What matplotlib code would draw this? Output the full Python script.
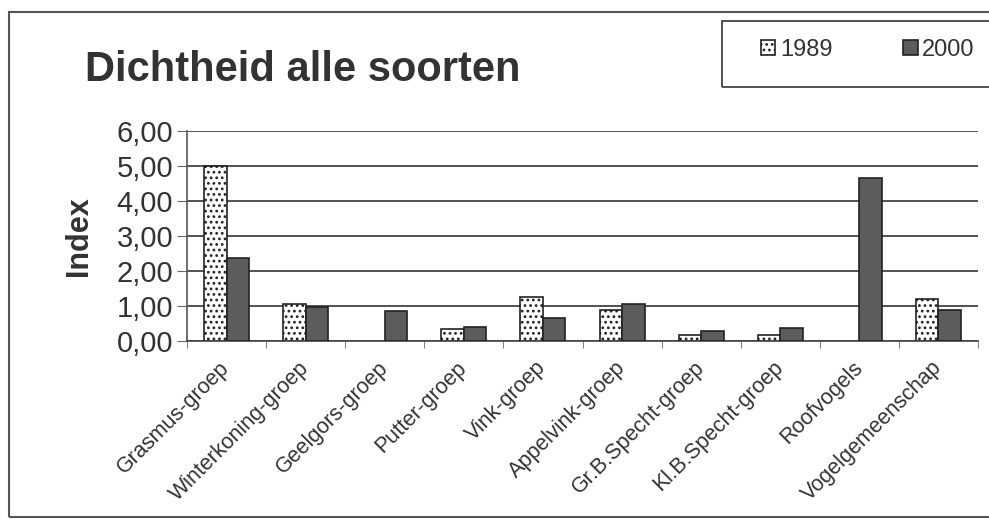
import matplotlib
matplotlib.use("Agg")
import matplotlib.pyplot as plt
from matplotlib.patches import Rectangle
import numpy as np

plt.rcParams['font.family'] = ['Liberation Sans', 'DejaVu Sans']
plt.rcParams['hatch.color'] = '#555555'
plt.rcParams['hatch.linewidth'] = 1.2

categories = ["Grasmus-groep", "Winterkoning-groep", "Geelgors-groep", "Putter-groep",
              "Vink-groep", "Appelvink-groep", "Gr.B.Specht-groep", "Kl.B.Specht-groep",
              "Roofvogels", "Vogelgemeenschap"]
values_1989 = [5.00, 1.05, 0.0, 0.34, 1.25, 0.88, 0.18, 0.17, 0.0, 1.20]
values_2000 = [2.36, 0.97, 0.85, 0.40, 0.65, 1.05, 0.30, 0.38, 4.66, 0.90]
yticks = [0, 1, 2, 3, 4, 5, 6]
ytick_labels = ["0,00", "1,00", "2,00", "3,00", "4,00", "5,00", "6,00"]

W, H = 989, 519
fig = plt.figure(figsize=(W / 100, H / 100), dpi=100)
ax = fig.add_axes([187 / W, (H - 341) / H, (978 - 187) / W, (341 - 131) / H])

txt = '#333333'
x = np.arange(len(categories))
bw = 0.285

# zero values have no visible bar in the original
v89 = np.array(values_1989)
v00 = np.array(values_2000)
m89 = v89 > 0
m00 = v00 > 0
ax.bar(x[m89] - bw / 2, v89[m89], bw, facecolor='white', edgecolor='#222222',
       hatch='...', linewidth=1.2, label='1989', zorder=3)
ax.bar(x[m00] + bw / 2, v00[m00], bw, facecolor='#5c5c5c', edgecolor='#222222',
       linewidth=1.2, label='2000', zorder=3)

ax.set_xlim(-0.5, len(categories) - 0.5)
ax.set_ylim(0, 6)
ax.set_yticks(yticks)
ax.set_yticklabels(ytick_labels, fontsize=21, color=txt)
ax.yaxis.grid(True, color='#444444', linewidth=1.3, zorder=0)
ax.set_axisbelow(True)

ax.set_xticks(x)
ax.set_xticklabels(categories, rotation=45, ha='right', va='center',
                   rotation_mode='anchor', fontsize=15.5, color=txt)
ax.tick_params(axis='x', which='major', length=0, pad=17)
ax.set_xticks(np.arange(-0.5, len(categories), 1), minor=True)
ax.tick_params(axis='x', which='minor', length=5, color='#666666', direction='out')
ax.tick_params(axis='y', length=7, color='#666666', direction='out', pad=3)

for s in ['top', 'right']:
    ax.spines[s].set_visible(False)
ax.spines['left'].set_color('#555555')
ax.spines['bottom'].set_color('#444444')
ax.spines['left'].set_linewidth(1.2)
ax.spines['bottom'].set_linewidth(1.2)

ax.set_ylabel("Index", fontsize=22, fontweight='bold', color=txt, labelpad=16)

fig.text(85 / W, (H - 81) / H, "Dichtheid alle soorten", fontsize=30,
         fontweight='bold', color=txt, ha='left', va='baseline')

# outer frame and legend box
fig.add_artist(Rectangle((9 / W, 2 / H), 1.2, (517 - 12) / H, transform=fig.transFigure,
                         fill=False, edgecolor='#555555', linewidth=1.5))
fig.add_artist(Rectangle((722 / W, (H - 87) / H), 0.5, 66 / H, transform=fig.transFigure,
                         fill=False, edgecolor='#333333', linewidth=1.2))
fig.legend(loc='center left', bbox_to_anchor=(740 / W, (H - 50) / H), ncol=2,
           frameon=False, fontsize=17, handlelength=0.6, handleheight=0.6,
           handletextpad=0.2, columnspacing=3.0, labelcolor=txt)

fig.savefig("out.png", dpi=100, facecolor='white')
